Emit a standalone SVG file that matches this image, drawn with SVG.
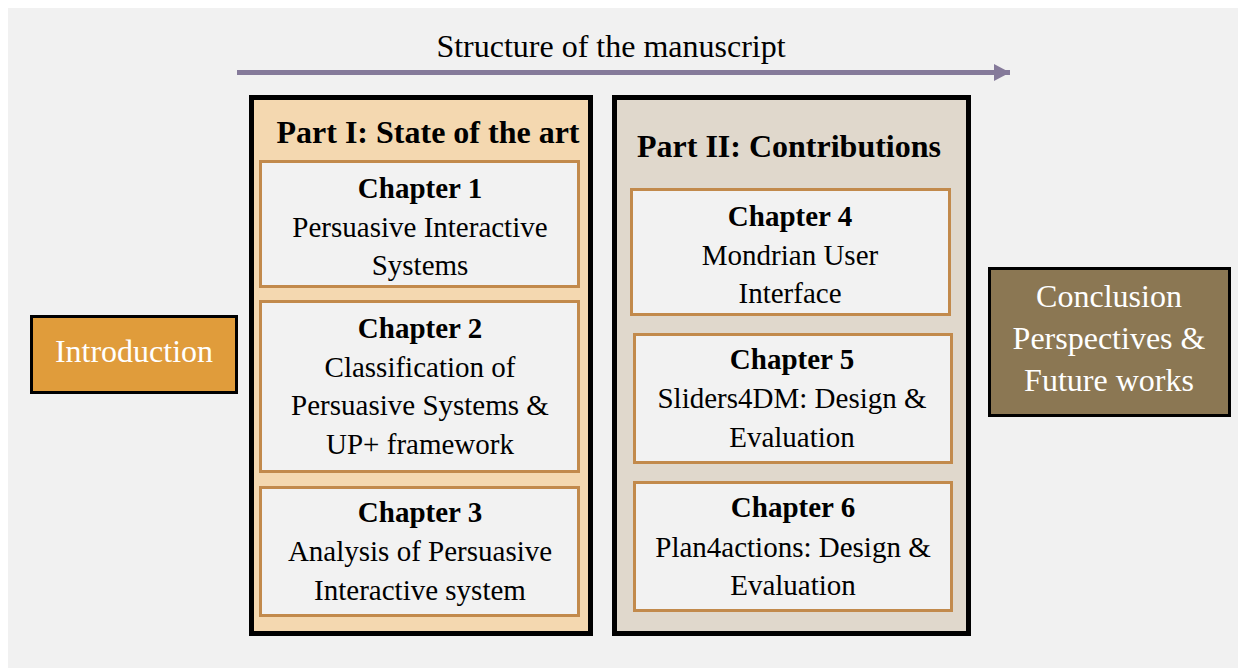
<svg xmlns="http://www.w3.org/2000/svg" width="1238" height="668" viewBox="0 0 1238 668">
<defs>
<style>
.t{font-family:"Liberation Serif","Times New Roman",serif;text-anchor:middle;fill:#000}
.b{font-weight:bold}
.body{font-size:29px}
.big{font-size:32px}
.w{fill:#fff}
.part{stroke:#000;stroke-width:5}
.ch{fill:#f2f2f2;stroke:#c28a4c;stroke-width:3}
</style>
<marker id="ah" markerUnits="userSpaceOnUse" markerWidth="17" markerHeight="17" refX="16" refY="8.5" orient="auto">
<path d="M0,0 L16,8.5 L0,17 Z" fill="#857a9a"/>
</marker>
</defs>
<rect x="8" y="8" width="1230" height="660" fill="#f1f1f1"/>
<g id="title">
<text class="t big" x="611" y="57">Structure of the manuscript</text>
</g>
<g id="connectors">
<line x1="237" y1="72.5" x2="1010" y2="72.5" stroke="#857a9a" stroke-width="5" marker-end="url(#ah)"/>
</g>
<g id="introduction">
<rect x="31.5" y="316.5" width="205" height="76" fill="#e09c3b" stroke="#000" stroke-width="3"/>
<text class="t big w" x="134" y="362">Introduction</text>
</g>
<g id="part1">
<rect class="part" x="251.5" y="97.5" width="339" height="536" fill="#f4d8b0"/>
<text class="t big b" x="428" y="143">Part I: State of the art</text>
</g>
<g id="chapter1">
<rect class="ch" x="260.5" y="161.5" width="318" height="125"/>
<text class="t body b" x="420" y="198">Chapter 1</text>
<text class="t body" x="420" y="237">Persuasive Interactive</text>
<text class="t body" x="420" y="275">Systems</text>
</g>
<g id="chapter2">
<rect class="ch" x="260.5" y="301.5" width="318" height="170"/>
<text class="t body b" x="420" y="338">Chapter 2</text>
<text class="t body" x="420" y="377">Classification of</text>
<text class="t body" x="420" y="415">Persuasive Systems &amp;</text>
<text class="t body" x="420" y="454">UP+ framework</text>
</g>
<g id="chapter3">
<rect class="ch" x="260.5" y="487.5" width="318" height="128"/>
<text class="t body b" x="420" y="522">Chapter 3</text>
<text class="t body" x="420" y="561">Analysis of Persuasive</text>
<text class="t body" x="420" y="600">Interactive system</text>
</g>
<g id="part2">
<rect class="part" x="614.5" y="97.5" width="354" height="536" fill="#e0d8cc"/>
<text class="t big b" x="789" y="157">Part II: Contributions</text>
</g>
<g id="chapter4">
<rect class="ch" x="631.5" y="189.5" width="318" height="125"/>
<text class="t body b" x="790" y="226">Chapter 4</text>
<text class="t body" x="790" y="265">Mondrian User</text>
<text class="t body" x="790" y="303">Interface</text>
</g>
<g id="chapter5">
<rect class="ch" x="634.5" y="334.5" width="317" height="128"/>
<text class="t body b" x="792" y="369">Chapter 5</text>
<text class="t body" x="792" y="408">Sliders4DM: Design &amp;</text>
<text class="t body" x="792" y="447">Evaluation</text>
</g>
<g id="chapter6">
<rect class="ch" x="634.5" y="482.5" width="317" height="128"/>
<text class="t body b" x="793" y="517">Chapter 6</text>
<text class="t body" x="793" y="557">Plan4actions: Design &amp;</text>
<text class="t body" x="793" y="595">Evaluation</text>
</g>
<g id="conclusion">
<rect x="989.5" y="268.5" width="240" height="147" fill="#8b7753" stroke="#000" stroke-width="3"/>
<text class="t big w" x="1109" y="307">Conclusion</text>
<text class="t big w" x="1109" y="349">Perspectives &amp;</text>
<text class="t big w" x="1109" y="391">Future works</text>
</g>
</svg>
